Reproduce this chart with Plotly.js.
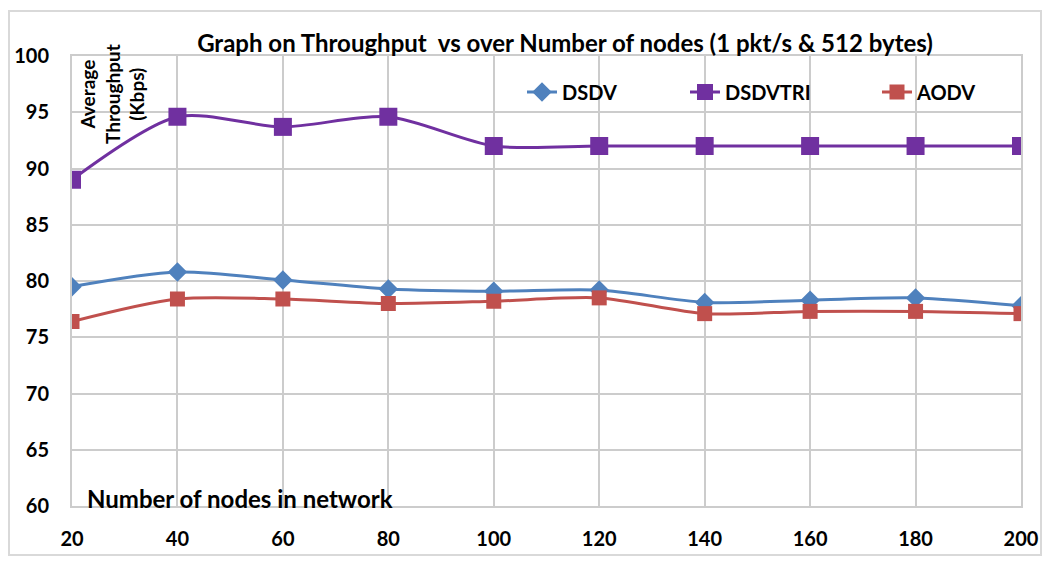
<!DOCTYPE html>
<html>
<head>
<meta charset="utf-8">
<script src="https://cdn.plot.ly/plotly-3.0.1.min.js"></script>
<style>
  html, body { margin: 0; padding: 0; background: #ffffff; }
  #chart { width: 1051px; height: 563px; }
</style>
</head>
<body>
<div id="chart"></div>
<script>
const nodes = [20, 40, 60, 80, 100, 120, 140, 160, 180, 200];
const dsdv = [79.5, 80.8, 80.1, 79.3, 79.1, 79.2, 78.1, 78.3, 78.5, 77.8];
const dsdvtri = [89.0, 94.6, 93.7, 94.6, 92.0, 92.0, 92.0, 92.0, 92.0, 92.0];
const aodv = [76.4, 78.4, 78.4, 78.0, 78.2, 78.5, 77.1, 77.3, 77.3, 77.1];
const seriesNames = ['DSDV', 'DSDVTRI', 'AODV'];
const yTicks = [60, 65, 70, 75, 80, 85, 90, 95, 100];

const FONT = 'Lato, "Open Sans", sans-serif';

const traces = [
  {
    x: nodes, y: dsdv, name: seriesNames[0], type: 'scatter', mode: 'lines+markers',
    line: {color: '#4f81bd', width: 3, shape: 'spline', smoothing: 0.8},
    marker: {symbol: 'diamond', size: 15, color: '#4f81bd'},
    legend: 'legend'
  },
  {
    x: nodes, y: dsdvtri, name: seriesNames[1], type: 'scatter', mode: 'lines+markers',
    line: {color: '#7030a0', width: 3, shape: 'spline', smoothing: 0.8},
    marker: {symbol: 'square', size: 18, color: '#7030a0'},
    legend: 'legend2'
  },
  {
    x: nodes, y: aodv, name: seriesNames[2], type: 'scatter', mode: 'lines+markers',
    line: {color: '#c0504d', width: 3, shape: 'spline', smoothing: 0.8},
    marker: {symbol: 'square', size: 15, color: '#c0504d'},
    legend: 'legend3'
  }
];

const legendBase = {
  orientation: 'h', xanchor: 'left', yanchor: 'middle',
  bgcolor: 'rgba(0,0,0,0)', borderwidth: 0,
  font: {family: FONT, size: 20, color: '#000000', weight: 'bold'}
};

const layout = {
  width: 1051, height: 563,
  margin: {l: 72, r: 30, t: 56, b: 57},
  paper_bgcolor: '#ffffff', plot_bgcolor: '#ffffff',
  font: {family: FONT, color: '#000000'},
  title: {
    text: '<b>Graph on Throughput  vs over Number of nodes (1 pkt/s & 512 bytes)</b>',
    font: {family: FONT, size: 24, color: '#000000'},
    x: 0.5376, xref: 'container', xanchor: 'center',
    y: 1 - 44 / 563, yref: 'container', yanchor: 'middle'
  },
  xaxis: {
    range: [20, 200], tickvals: nodes, ticktext: nodes.map(String),
    showgrid: true, gridcolor: '#cccccc', gridwidth: 2,
    showline: true, linecolor: '#cccccc', linewidth: 2, mirror: true,
    zeroline: false, ticks: 'outside', ticklen: 14, tickcolor: 'rgba(0,0,0,0)',
    tickfont: {family: FONT, size: 20, color: '#000000', weight: 'bold'}
  },
  yaxis: {
    range: [60, 100], tickvals: yTicks,
    showgrid: true, gridcolor: '#cccccc', gridwidth: 2,
    showline: true, linecolor: '#cccccc', linewidth: 2, mirror: true,
    zeroline: false, ticks: 'outside', ticklen: 17, tickcolor: 'rgba(0,0,0,0)',
    tickfont: {family: FONT, size: 20, color: '#000000', weight: 'bold'}
  },
  showlegend: true,
  legend: Object.assign({}, legendBase, {x: (522 - 72) / 949, y: (506 - 92) / 450}),
  legend2: Object.assign({}, legendBase, {x: (685 - 72) / 949, y: (506 - 92) / 450}),
  legend3: Object.assign({}, legendBase, {x: (877 - 72) / 949, y: (506 - 92) / 450}),
  annotations: [
    {
      text: '<b>Average<br>Throughput<br>(Kbps)</b>',
      xref: 'paper', yref: 'paper', x: (112 - 72) / 949, y: (506 - 94) / 450,
      xanchor: 'center', yanchor: 'middle', textangle: -90, showarrow: false,
      font: {family: FONT, size: 19, color: '#000000'}
    },
    {
      text: '<b>Number of nodes in network</b>',
      xref: 'paper', yref: 'paper', x: (85 - 72) / 949, y: (506 - 498) / 450,
      xanchor: 'left', yanchor: 'middle', showarrow: false,
      font: {family: FONT, size: 24, color: '#000000'}
    }
  ],
  shapes: [
    {
      type: 'rect', xref: 'paper', yref: 'paper',
      x0: (9 - 72) / 949, x1: (1041 - 72) / 949,
      y0: (506 - 555) / 450, y1: (506 - 11) / 450,
      line: {color: '#d9d9d9', width: 2}, fillcolor: 'rgba(0,0,0,0)', layer: 'below'
    }
  ]
};

Plotly.newPlot('chart', traces, layout, {displayModeBar: false, staticPlot: true});
</script>
</body>
</html>
